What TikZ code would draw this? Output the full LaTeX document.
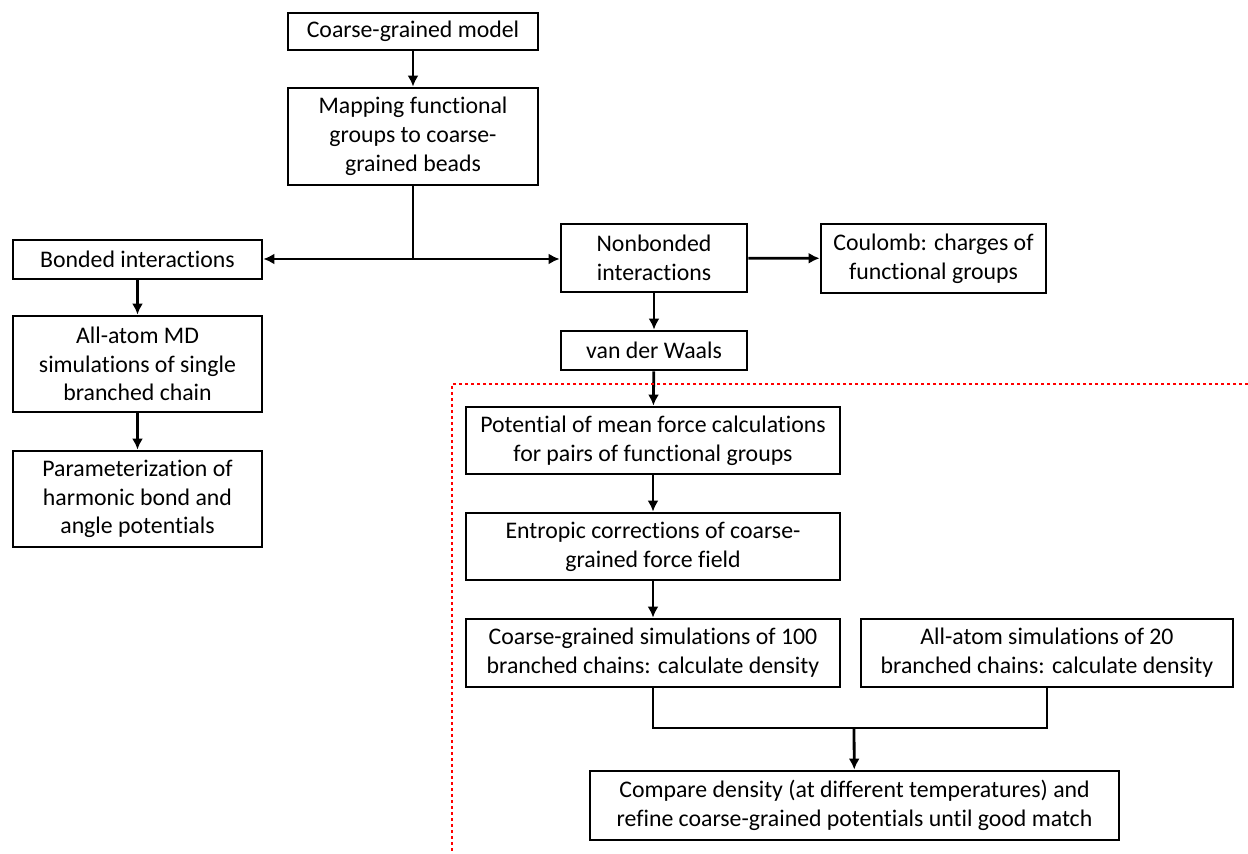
\documentclass[tikz,border=0pt]{standalone}
\usepackage{fontspec}
\setmainfont{Carlito}[Ligatures=NoCommon]
\usetikzlibrary{arrows.meta}

\begin{document}
\begin{tikzpicture}[
  x=0.5pt, y=-0.5pt,
  caixa/.style={draw, line width=1.4pt, align=center, inner sep=0pt, font=\fontsize{11.9}{14.4}\selectfont},
  seta/.style={-{Latex[length=5.5pt,width=5.5pt]}, line width=1.4pt},
  linha/.style={line width=1.4pt},
  limite/.style={red, line width=1.3pt, dash pattern=on 1.3pt off 1.7pt}
]
\useasboundingbox (0,0) rectangle (1248,854);
\node[caixa, minimum width=125pt, minimum height=18.5pt] (cgm) at (413,31.5) {Coarse-grained model};
\node[caixa, minimum width=125pt, minimum height=48.5pt] (map) at (413,136.5) {Mapping functional\\groups to coarse-\\grained beads};
\node[caixa, minimum width=124.5pt, minimum height=19.5pt] (bond) at (137.5,259.5) {Bonded interactions};
\node[caixa, minimum width=93pt, minimum height=34pt] (nonb) at (654,258) {Nonbonded\\interactions};
\node[caixa, minimum width=112.5pt, minimum height=34.5pt] (coul) at (933.5,258.5) {Coulomb: charges of\\functional groups};
\node[caixa, minimum width=93pt, minimum height=19.5pt] (vdw) at (654,350.5) {van der Waals};
\node[caixa, minimum width=124.5pt, minimum height=48pt] (aamd) at (137.5,364) {All-atom MD\\simulations of single\\branched chain};
\node[caixa, minimum width=124.5pt, minimum height=48pt] (param) at (137.5,499) {Parameterization of\\harmonic bond and\\angle potentials};
\node[caixa, minimum width=187pt, minimum height=33.5pt] (pmf) at (653,440.5) {Potential of mean force calculations\\for pairs of functional groups};
\node[caixa, minimum width=187pt, minimum height=33.5pt] (entr) at (653,546.5) {Entropic corrections of coarse-\\grained force field};
\node[caixa, minimum width=187pt, minimum height=34pt] (cgsim) at (653,653) {Coarse-grained simulations of 100\\branched chains: calculate density};
\node[caixa, minimum width=186pt, minimum height=34pt] (aasim) at (1047,653) {All-atom simulations of 20\\branched chains: calculate density};
\node[caixa, minimum width=264.5pt, minimum height=34.5pt] (cmp) at (854.5,805.5) {Compare density (at different temperatures) and\\refine coarse-grained potentials until good match};
\coordinate (jb) at (413,259);
\coordinate (jc) at (854,728);
% setas
\draw[seta] (cgm) -- (map);
\draw[linha] (map) -- (jb);
\draw[seta] (jb) -- (bond.east |- jb);
\draw[seta] (jb) -- (nonb.west |- jb);
\draw[seta] (nonb) -- (coul);
\draw[seta] (nonb) -- (vdw);
\draw[seta] (bond) -- (aamd);
\draw[seta] (aamd) -- (param);
\draw[seta] (vdw) -- (pmf);
\draw[seta] (pmf) -- (entr);
\draw[seta] (entr) -- (cgsim);
\draw[linha] (cgsim.south) |- (jc);
\draw[linha] (aasim.south) |- (jc);
\draw[seta] (jc) -- (cmp);
% limite pontilhado
\draw[limite] (1248,384) -- (452,384) -- (452,854);
\end{tikzpicture}
\end{document}
